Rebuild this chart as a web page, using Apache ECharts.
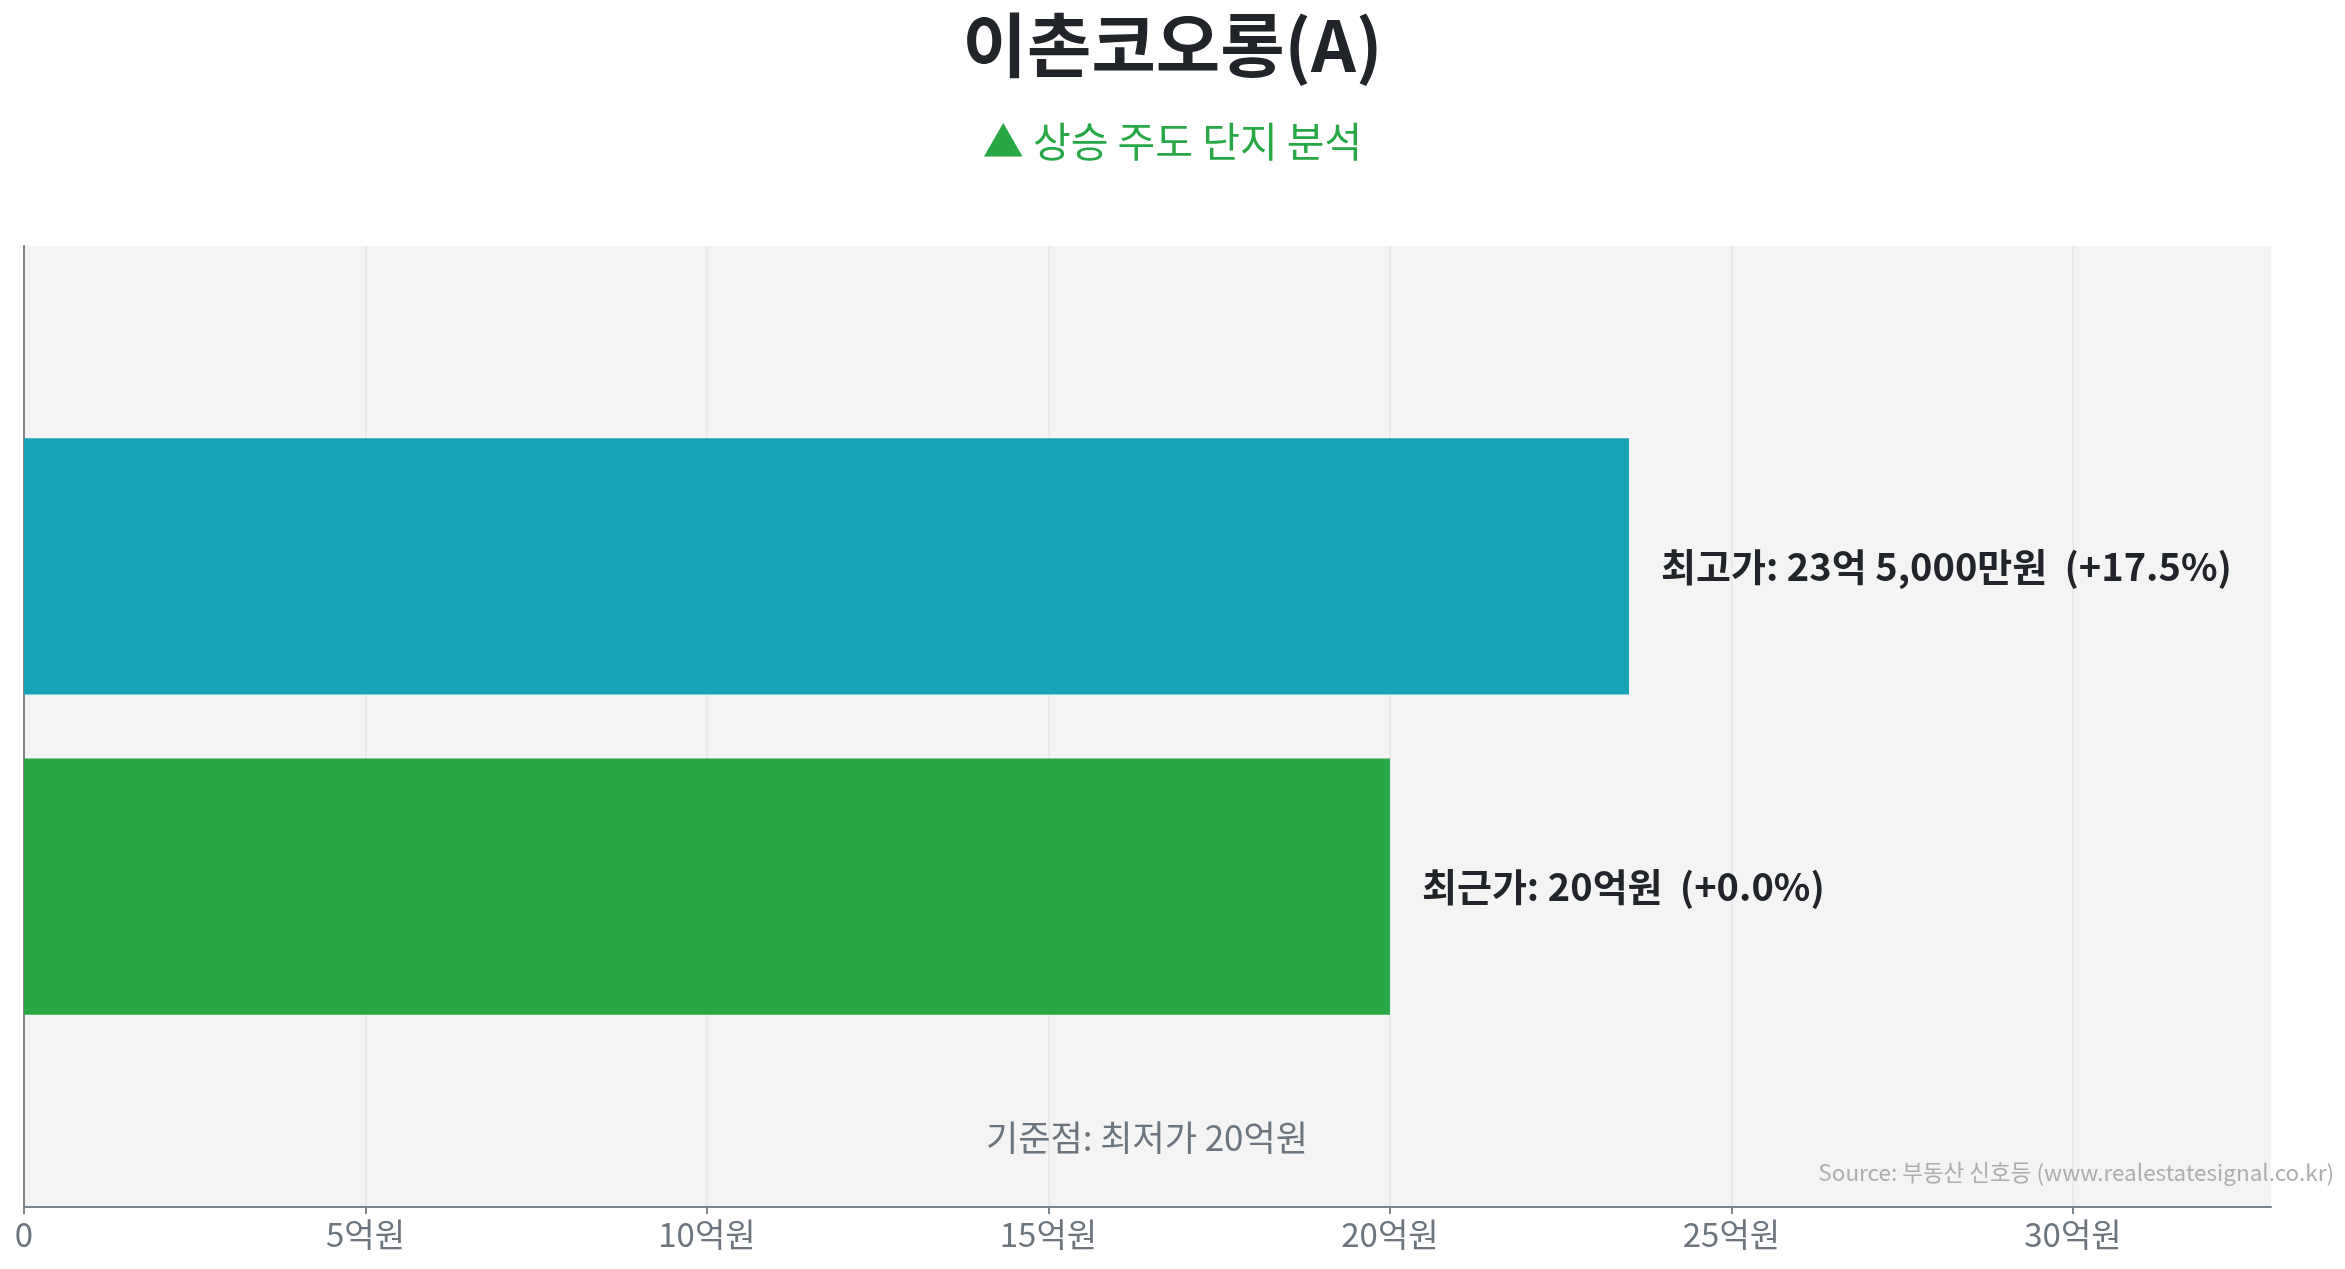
<!DOCTYPE html>
<html>
<head>
<meta charset="utf-8">
<script src="https://cdn.jsdelivr.net/npm/echarts@6/dist/echarts.min.js"></script>
<style>
html,body{margin:0;padding:0;background:#fff;}
#chart{width:2345px;height:1269px;}
</style>
</head>
<body>
<div id="chart"></div>
<script>
const titleText = '이촌코오롱(A)';
const subtitleText = '▲ 상승 주도 단지 분석';
const seriesNames = ['최고가', '최근가'];
const seriesValues = [23.5, 20];
const priceTexts = ['23억 5,000만원', '20억원'];
const changeTexts = ['+17.5%', '+0.0%'];
const seriesColors = ['#17a2b8', '#28a745'];
const xTickValues = [0, 5, 10, 15, 20, 25, 30];
const xTickLabels = ['0', '5억원', '10억원', '15억원', '20억원', '25억원', '30억원'];
const baseText = '기준점: 최저가 20억원';
const sourceText = 'Source: 부동산 신호등 (www.realestatesignal.co.kr)';
const xMax = 32.9;

const FONT = '"Noto Sans CJK KR", "Noto Sans", sans-serif';
const chart = echarts.init(document.getElementById('chart'), null, {renderer: 'canvas'});

const series = seriesNames.map((name, i) => ({
  name: name,
  type: 'bar',
  data: [seriesValues[i]],
  barCategoryGap: '40%',
  barGap: '25%',
  itemStyle: {color: seriesColors[i]},
  label: {
    show: true,
    position: 'right',
    distance: 32,
    fontFamily: FONT,
    fontSize: 38,
    fontWeight: 'bold',
    color: '#212529',
    formatter: () => name + ': ' + priceTexts[i] + '  (' + changeTexts[i] + ')'
  }
}));

chart.setOption({
  animation: false,
  backgroundColor: '#ffffff',
  textStyle: {fontFamily: FONT},
  title: [
    {
      text: titleText,
      left: 'center',
      top: 5,
      textStyle: {fontFamily: FONT, fontSize: 70, fontWeight: 'bold', color: '#212529'}
    },
    {
      text: subtitleText,
      left: 'center',
      top: 116,
      textStyle: {fontFamily: FONT, fontSize: 41, fontWeight: 'normal', color: '#28a745'}
    }
  ],
  grid: {
    left: 24, right: 74, top: 246, bottom: 62,
    show: true, backgroundColor: '#f4f4f4', borderWidth: 0,
    containLabel: false
  },
  xAxis: {
    type: 'value',
    min: 0,
    max: xMax,
    interval: 5,
    axisLine: {show: true, lineStyle: {color: '#7d858d', width: 2}},
    axisTick: {show: true, length: 7, lineStyle: {color: '#7d858d', width: 2}, customValues: xTickValues},
    axisLabel: {
      customValues: xTickValues,
      margin: 11,
      fontFamily: FONT,
      fontSize: 33,
      color: '#6c757d',
      formatter: (v) => xTickLabels[xTickValues.indexOf(v)]
    },
    splitLine: {show: true, lineStyle: {color: '#e6e6e6', width: 1.5}}
  },
  yAxis: {
    type: 'category',
    data: [''],
    axisLine: {show: true, lineStyle: {color: '#7d858d', width: 2}},
    axisTick: {show: false},
    axisLabel: {show: false},
    splitLine: {show: false}
  },
  series: series,
  graphic: [
    {
      type: 'text',
      x: 1147, y: 1138,
      style: {
        text: baseText, fontFamily: FONT, fontSize: 35, fill: '#6c757d',
        textAlign: 'center', textVerticalAlign: 'middle'
      },
      z: 100
    },
    {
      type: 'text',
      x: 2334, y: 1172,
      style: {
        text: sourceText, fontFamily: FONT, fontSize: 22.5, fill: '#adadad',
        textAlign: 'right', textVerticalAlign: 'middle'
      },
      z: 100
    }
  ]
});
</script>
</body>
</html>
